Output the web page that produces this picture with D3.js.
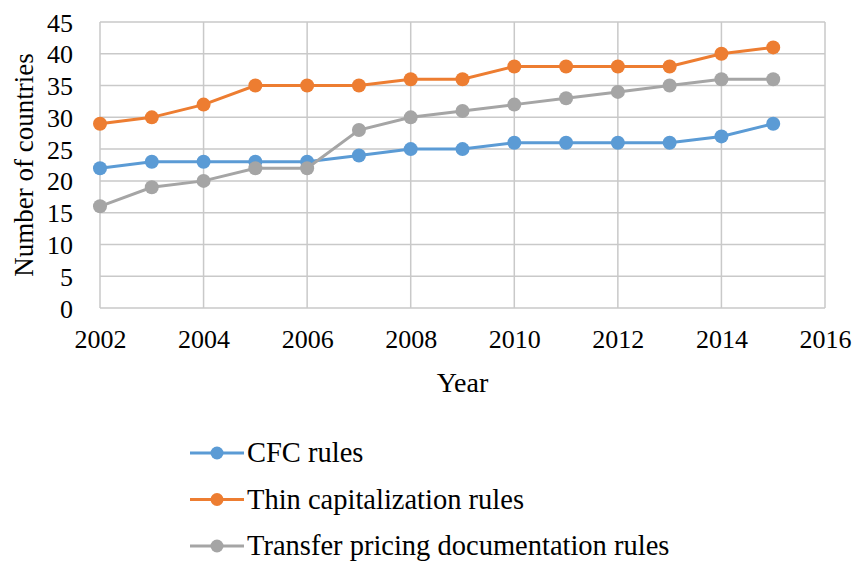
<!DOCTYPE html>
<html>
  <head>
    <meta charset="UTF-8">
    <title>Number of countries</title>
    <script src="https://d3js.org/d3.v7.min.js"></script>
    <style>
      body { margin: 0; background: #fff; }
      svg text { font-family: "Liberation Serif", "Tinos", "DejaVu Serif", serif; fill: #000; }
    </style>
  </head>
  <body>
    <div id="chart"></div>
    <script>
      const years = [2002, 2003, 2004, 2005, 2006, 2007, 2008, 2009, 2010, 2011, 2012, 2013, 2014, 2015];
      const cfcRules = [22, 23, 23, 23, 23, 24, 25, 25, 26, 26, 26, 26, 27, 29];
      const thinCapRules = [29, 30, 32, 35, 35, 35, 36, 36, 38, 38, 38, 38, 40, 41];
      const transferPricingRules = [16, 19, 20, 22, 22, 28, 30, 31, 32, 33, 34, 35, 36, 36];
      const xTicks = [2002, 2004, 2006, 2008, 2010, 2012, 2014, 2016];
      const yTicks = [0, 5, 10, 15, 20, 25, 30, 35, 40, 45];

      const series = [
        { name: 'CFC rules', values: cfcRules, color: '#5b9bd5' },
        { name: 'Thin capitalization rules', values: thinCapRules, color: '#ed7d31' },
        { name: 'Transfer pricing documentation rules', values: transferPricingRules, color: '#a5a5a5' }
      ];

      const width = 857;
      const height = 563;
      const plot = { left: 100, right: 825, top: 22, bottom: 308 };
      const serif = '"Liberation Serif", "Tinos", "DejaVu Serif", serif';

      const svg = d3.select('#chart')
        .append('svg')
        .attr('width', width)
        .attr('height', height);

      const x = d3.scaleLinear().domain([2002, 2016]).range([plot.left, plot.right]);
      const y = d3.scaleLinear().domain([0, 45]).range([plot.bottom, plot.top]);

      // grid
      const grid = svg.append('g').attr('stroke', '#c9c9c9').attr('stroke-width', 1.5);
      grid.selectAll('.h')
        .data(yTicks)
        .enter().append('line')
        .attr('x1', plot.left).attr('x2', plot.right)
        .attr('y1', (d) => y(d)).attr('y2', (d) => y(d));
      grid.selectAll('.v')
        .data(xTicks)
        .enter().append('line')
        .attr('y1', plot.top).attr('y2', plot.bottom)
        .attr('x1', (d) => x(d)).attr('x2', (d) => x(d));

      // y axis
      const yAxis = svg.append('g')
        .attr('transform', `translate(${plot.left},0)`)
        .call(d3.axisLeft(y).tickValues(yTicks).tickSize(0).tickPadding(27));
      yAxis.attr('font-family', serif).attr('font-size', 26);
      yAxis.select('.domain').remove();
      yAxis.selectAll('text').attr('dy', '0.35em');

      // x axis
      const xAxis = svg.append('g')
        .attr('transform', `translate(0,${plot.bottom})`)
        .call(d3.axisBottom(x).tickValues(xTicks).tickFormat(d3.format('d')).tickSize(0).tickPadding(22));
      xAxis.attr('font-family', serif).attr('font-size', 26);
      xAxis.select('.domain').remove();

      svg.append('text')
        .attr('x', x(2009))
        .attr('y', 392)
        .attr('text-anchor', 'middle')
        .style('font-size', '28px')
        .text('Year');

      svg.append('text')
        .attr('transform', `translate(33,${(plot.top + plot.bottom) / 2}) rotate(-90)`)
        .attr('text-anchor', 'middle')
        .style('font-size', '27px')
        .text('Number of countries');

      // lines and markers
      const line = d3.line()
        .x((d, i) => x(years[i]))
        .y((d) => y(d));

      series.forEach((s) => {
        const g = svg.append('g');
        g.append('path')
          .datum(s.values)
          .attr('fill', 'none')
          .attr('stroke', s.color)
          .attr('stroke-width', 3)
          .attr('d', line);
        g.selectAll('circle')
          .data(s.values)
          .enter().append('circle')
          .attr('cx', (d, i) => x(years[i]))
          .attr('cy', (d) => y(d))
          .attr('r', 7)
          .attr('fill', s.color);
      });

      // legend
      const legend = svg.append('g');
      const item = legend.selectAll('g')
        .data(series)
        .enter().append('g')
        .attr('transform', (d, i) => `translate(190,${453 + i * 46.5})`);
      item.append('line')
        .attr('x1', 0).attr('x2', 54)
        .attr('stroke', (d) => d.color)
        .attr('stroke-width', 3);
      item.append('circle')
        .attr('cx', 27)
        .attr('r', 6.5)
        .attr('fill', (d) => d.color);
      item.append('text')
        .attr('x', 57)
        .attr('dy', '0.33em')
        .style('font-size', '28.5px')
        .text((d) => d.name);
    </script>
  </body>
</html>
